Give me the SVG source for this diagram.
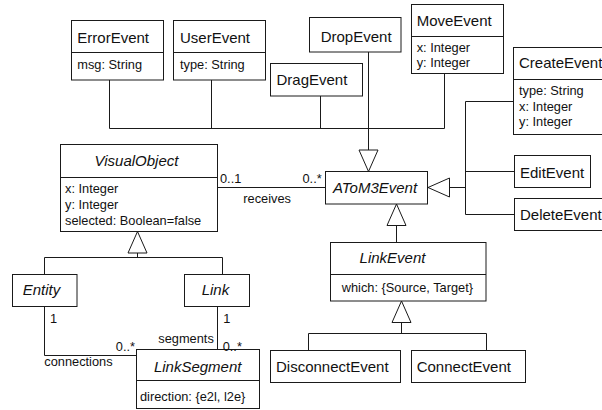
<svg xmlns="http://www.w3.org/2000/svg" width="602" height="410" viewBox="0 0 602 410">
  <style>
    .box { fill: #fff; stroke: #1a1a1a; stroke-width: 1; }
    .div { stroke: #1a1a1a; stroke-width: 1; }
    .edge { fill: none; stroke: #1a1a1a; stroke-width: 1; }
    .name { font-family: "Liberation Sans", Arial, sans-serif; font-size: 15px; fill: #111; }
    .abs { font-style: italic; }
    .mid { text-anchor: middle; }
    .attr { font-family: "Liberation Sans", Arial, sans-serif; font-size: 12.8px; fill: #111; }
    .lbl { font-family: "Liberation Sans", Arial, sans-serif; font-size: 12.8px; fill: #111; }
  </style>
  <defs>
    <!-- hollow triangle for generalization -->
    <marker id="gen" markerUnits="userSpaceOnUse" viewBox="-1 -1 24 21" markerWidth="24" markerHeight="21" refX="21.5" refY="9.5" orient="auto" overflow="visible">
      <path d="M0,0 L21.5,9.5 L0,19 Z" fill="#fff" stroke="#1a1a1a" stroke-width="1"/>
    </marker>
  </defs>
  <rect width="602" height="410" fill="#fff"/>

  <g id="connectors">
    <!-- event subclasses to AToM3Event (top) -->
    <path class="edge" d="M109.5,80 V128.5 H444.5 V73.5"/>
    <path class="edge" d="M211.5,80 V128.5"/>
    <path class="edge" d="M320.5,96 V128.5"/>
    <path class="edge" d="M368.5,52 V171.5" marker-end="url(#gen)"/>
    <!-- create/edit/delete to AToM3Event (right) -->
    <path class="edge" d="M513.5,101.5 H465.5 V214.5 H514"/>
    <path class="edge" d="M514,171.5 H465.5"/>
    <path class="edge" d="M465.5,187.5 H428" marker-end="url(#gen)"/>
    <!-- LinkEvent to AToM3Event -->
    <path class="edge" d="M396.5,242.5 V204" marker-end="url(#gen)"/>
    <!-- Disconnect/Connect to LinkEvent -->
    <path class="edge" d="M308.5,350 V333.5 H486.5 V350"/>
    <path class="edge" d="M401.5,333.5 V301" marker-end="url(#gen)"/>
    <!-- Entity/Link to VisualObject -->
    <path class="edge" d="M44.5,274 V257.5 H222.5 V274"/>
    <path class="edge" d="M137.5,257.5 V231.5" marker-end="url(#gen)"/>
    <!-- receives association -->
    <path class="edge" d="M217.5,187.5 H325"/>
    <!-- connections / segments associations -->
    <path class="edge" d="M44.5,306.5 V355.5 H136"/>
    <path class="edge" d="M217.5,306.5 V349.5"/>
  </g>

  <g id="ErrorEvent">
    <rect class="box" x="71.5" y="20.5" width="92" height="59.5"/>
    <line class="div" x1="71.5" y1="52.5" x2="163.5" y2="52.5"/>
    <text class="name" x="77.3" y="42.7">ErrorEvent</text>
    <text class="attr" x="77.3" y="69">msg: String</text>
  </g>
  <g id="UserEvent">
    <rect class="box" x="173.5" y="20.5" width="92" height="59.5"/>
    <line class="div" x1="173.5" y1="52.5" x2="265.5" y2="52.5"/>
    <text class="name" x="180" y="42.7">UserEvent</text>
    <text class="attr" x="180" y="69">type: String</text>
  </g>
  <g id="DragEvent">
    <rect class="box" x="270.5" y="63.5" width="92" height="32.5"/>
    <text class="name" x="276.5" y="85">DragEvent</text>
  </g>
  <g id="DropEvent">
    <rect class="box" x="309.5" y="17.5" width="91.5" height="34.5"/>
    <text class="name" x="320.7" y="42.3">DropEvent</text>
  </g>
  <g id="MoveEvent">
    <rect class="box" x="411.5" y="4.5" width="92" height="69"/>
    <line class="div" x1="411.5" y1="36.5" x2="503.5" y2="36.5"/>
    <text class="name" x="416.7" y="26">MoveEvent</text>
    <text class="attr" x="416.7" y="52">x: Integer</text>
    <text class="attr" x="416.7" y="66.5">y: Integer</text>
  </g>
  <g id="CreateEvent">
    <rect class="box" x="513.5" y="47.5" width="100" height="87"/>
    <line class="div" x1="513.5" y1="79.5" x2="613.5" y2="79.5"/>
    <text class="name" x="519" y="68.3">CreateEvent</text>
    <text class="attr" x="519" y="95">type: String</text>
    <text class="attr" x="519" y="110.5">x: Integer</text>
    <text class="attr" x="519" y="125.7">y: Integer</text>
  </g>
  <g id="EditEvent">
    <rect class="box" x="514.5" y="155.5" width="76" height="32"/>
    <text class="name" x="520" y="177.7">EditEvent</text>
  </g>
  <g id="DeleteEvent">
    <rect class="box" x="514.5" y="198.5" width="100" height="32"/>
    <text class="name" x="520" y="220">DeleteEvent</text>
  </g>
  <g id="AToM3Event">
    <rect class="box" x="325.5" y="171.5" width="102" height="32.5"/>
    <text class="name abs mid" x="375" y="192.7">AToM3Event</text>
  </g>
  <g id="VisualObject">
    <rect class="box" x="60.5" y="144.5" width="157" height="87"/>
    <line class="div" x1="60.5" y1="177.5" x2="217.5" y2="177.5"/>
    <text class="name abs mid" x="136.5" y="165.7">VisualObject</text>
    <text class="attr" x="65" y="193.3">x: Integer</text>
    <text class="attr" x="65" y="209">y: Integer</text>
    <text class="attr" x="65" y="224.7">selected: Boolean=false</text>
  </g>
  <g id="LinkEvent">
    <rect class="box" x="330.5" y="242.5" width="155.5" height="58.5"/>
    <line class="div" x1="330.5" y1="274.5" x2="486" y2="274.5"/>
    <text class="name abs mid" x="392.5" y="263.3">LinkEvent</text>
    <text class="attr" x="341.7" y="291.7">which: {Source, Target}</text>
  </g>
  <g id="Entity">
    <rect class="box" x="12.5" y="274.5" width="64.5" height="32"/>
    <text class="name abs" x="22.7" y="295">Entity</text>
  </g>
  <g id="Link">
    <rect class="box" x="184.5" y="274.5" width="65" height="32"/>
    <text class="name abs" x="201.7" y="295">Link</text>
  </g>
  <g id="LinkSegment">
    <rect class="box" x="136.5" y="349.5" width="123" height="59"/>
    <line class="div" x1="136.5" y1="380.5" x2="259.5" y2="380.5"/>
    <text class="name abs mid" x="197.7" y="371.7">LinkSegment</text>
    <text class="attr" x="140" y="400.7">direction: {e2l, l2e}</text>
  </g>
  <g id="DisconnectEvent">
    <rect class="box" x="270.5" y="350.5" width="130" height="32"/>
    <text class="name" x="276" y="371.7">DisconnectEvent</text>
  </g>
  <g id="ConnectEvent">
    <rect class="box" x="411.5" y="350.5" width="114" height="32"/>
    <text class="name" x="416.7" y="371.7">ConnectEvent</text>
  </g>

  <g id="labels">
    <text class="lbl" x="220" y="183.3">0..1</text>
    <text class="lbl" x="321.7" y="183.3" text-anchor="end">0..*</text>
    <text class="lbl" x="243.3" y="202.7">receives</text>
    <text class="lbl" x="50" y="323.3">1</text>
    <text class="lbl" x="135" y="350.7" text-anchor="end">0..*</text>
    <text class="lbl" x="44.3" y="366">connections</text>
    <text class="lbl" x="158.3" y="343.3">segments</text>
    <text class="lbl" x="223.3" y="323.3">1</text>
    <text class="lbl" x="222.7" y="350.7">0..*</text>
  </g>
</svg>
